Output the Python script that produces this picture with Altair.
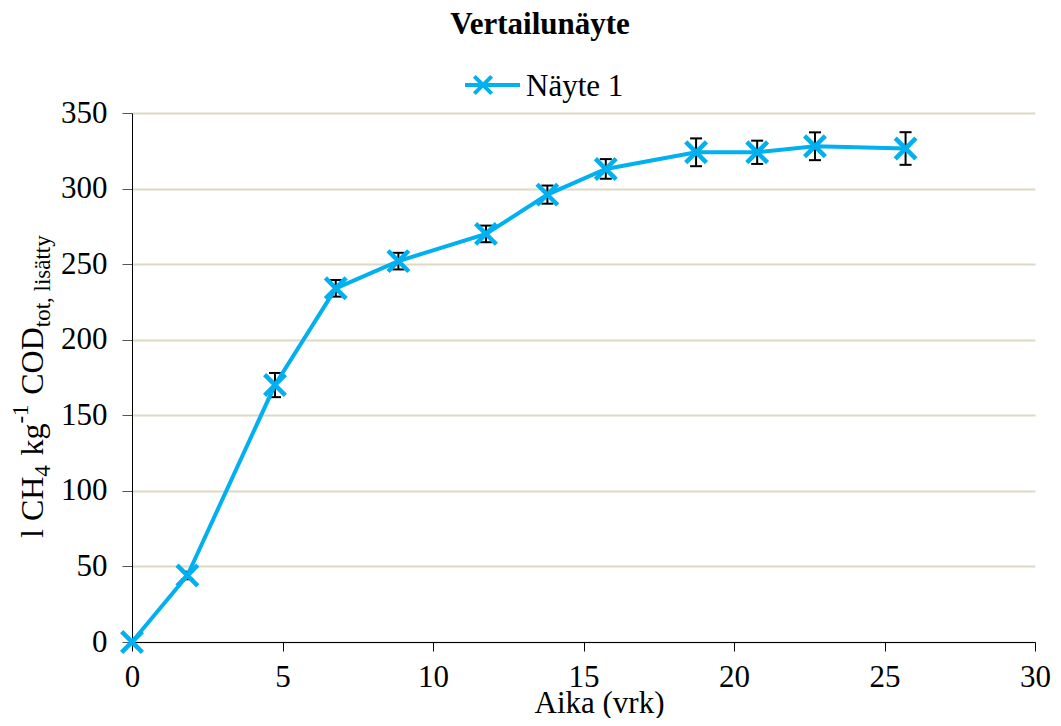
import altair as alt
import pandas as pd

# ---- data ----
days = [0, 1.84, 4.75, 6.77, 8.85, 11.76, 13.80, 15.74, 18.74, 20.77, 22.69, 25.70]
methane = [0, 44, 170, 234, 252, 270, 296, 313, 324, 324, 328, 326.5]
errors = [0, 2.5, 8, 5.5, 5.5, 5.5, 6, 6.5, 9.2, 7.7, 9.2, 10.8]
x_ticks = [0, 5, 10, 15, 20, 25, 30]
y_ticks = [0, 50, 100, 150, 200, 250, 300, 350]
series_name = "Näyte 1"
chart_title = "Vertailunäyte"
x_title = "Aika (vrk)"

BLUE = "#00b0f0"
FONT = "Liberation Serif"
XSHAPE = "M-1,-1L1,1M-1,1L1,-1"

df = pd.DataFrame({"day": days, "val": methane, "err": errors})
df["lo"] = df["val"] - df["err"]
df["hi"] = df["val"] + df["err"]
df_err = df[df["err"] > 0]

xs = alt.Scale(domain=[0, 30], nice=False, zero=False)
ys = alt.Scale(domain=[0, 350], nice=False)

x_axis = alt.Axis(
    values=x_ticks, grid=False, domainColor="black", domainWidth=1,
    tickColor="black", tickSize=9, tickWidth=1,
    labelFont=FONT, labelFontSize=31, labelColor="black", labelPadding=11,
    labelFlush=False, labelOverlap=False,
    title=x_title, titleFont=FONT, titleFontSize=31, titleFontWeight="normal",
    titleColor="black", titleBaseline="alphabetic", titleAlign="center",
    titleX=467, titleY=70,
)
y_axis = alt.Axis(
    values=y_ticks, grid=True, gridColor="#ddd9c3", gridWidth=2,
    domainColor="black", domainWidth=1, tickColor="#555555", tickSize=10,
    labelFont=FONT, labelFontSize=31, labelColor="black", labelPadding=15,
    labelFlush=False, labelOverlap=False, title=None,
)

base = alt.Chart(df)

err_rule = alt.Chart(df_err).mark_rule(color="black", strokeWidth=2).encode(
    x=alt.X("day:Q", scale=xs, axis=x_axis),
    y=alt.Y("lo:Q", scale=ys, axis=y_axis),
    y2="hi:Q",
)
cap_hi = alt.Chart(df_err).mark_rule(color="black", strokeWidth=2, xOffset=-6, x2Offset=6).encode(
    x=alt.X("day:Q", scale=xs), x2="day:Q", y=alt.Y("hi:Q", scale=ys)
)
cap_lo = alt.Chart(df_err).mark_rule(color="black", strokeWidth=2, xOffset=-6, x2Offset=6).encode(
    x=alt.X("day:Q", scale=xs), x2="day:Q", y=alt.Y("lo:Q", scale=ys)
)
line = base.mark_line(color=BLUE, strokeWidth=4).encode(
    x=alt.X("day:Q", scale=xs), y=alt.Y("val:Q", scale=ys)
)
points = base.mark_point(shape=XSHAPE, filled=False, stroke=BLUE, strokeWidth=4.5,
                         size=430, opacity=1).encode(
    x=alt.X("day:Q", scale=xs), y=alt.Y("val:Q", scale=ys)
)

# ---- title ----
one = pd.DataFrame({"a": [0]})
title_mark = alt.Chart(one).mark_text(
    text=chart_title, font=FONT, fontSize=31, fontWeight="bold", color="black",
    align="center", baseline="alphabetic"
).encode(x=alt.value(408), y=alt.value(-79))

# ---- legend ----
leg_line = alt.Chart(one).mark_rule(color=BLUE, strokeWidth=4).encode(
    x=alt.value(333), x2=alt.value(388), y=alt.value(-28)
)
leg_pt = alt.Chart(one).mark_point(shape=XSHAPE, filled=False, stroke=BLUE, strokeWidth=4,
                                   size=300, opacity=1).encode(
    x=alt.value(351), y=alt.value(-28)
)
leg_txt = alt.Chart(one).mark_text(
    text=series_name, font=FONT, fontSize=31, color="black", align="left",
    baseline="alphabetic"
).encode(x=alt.value(394), y=alt.value(-17))

# ---- y axis title with sub/superscripts ----
W = {"l": .278, " ": .25, "C": .667, "H": .722, "4": .5, "k": .5, "g": .5, "-": .333,
     "1": .5, "O": .722, "D": .722, "t": .278, "o": .5, ",": .25, "i": .278,
     "s": .389, "ä": .444, "y": .5}
MAIN, SUB = 32, 23
# (text, font size, baseline shift, gap before in em of main font)
segments = [("l CH", MAIN, 0, 0), ("4", SUB, 7, 0), ("kg", MAIN, 0, 0.3),
            ("-1", SUB, -15, 0), ("COD", MAIN, 0, 0.3), ("tot, lisätty", SUB, 7, 0)]
base_x = -89
pos = 425
ytitle_layers = []
for s, f, shift, gap in segments:
    pos -= gap * MAIN
    ytitle_layers.append(
        alt.Chart(one).mark_text(
            text=s, font=FONT, fontSize=f, color="black", align="left",
            baseline="alphabetic", angle=270
        ).encode(x=alt.value(base_x + shift), y=alt.value(pos))
    )
    pos -= sum(W.get(c, .5) for c in s) * f

chart = alt.layer(
    err_rule, cap_hi, cap_lo, line, points,
    title_mark, leg_line, leg_pt, leg_txt, *ytitle_layers
).properties(
    width=903, height=529,
    autosize=alt.AutoSizeParams(type="none"),
    padding={"left": 124, "top": 105, "right": 18, "bottom": 76},
    background="white",
).configure_view(stroke=None)

chart.save("out.html", embed_options={"renderer": "svg", "actions": False})
